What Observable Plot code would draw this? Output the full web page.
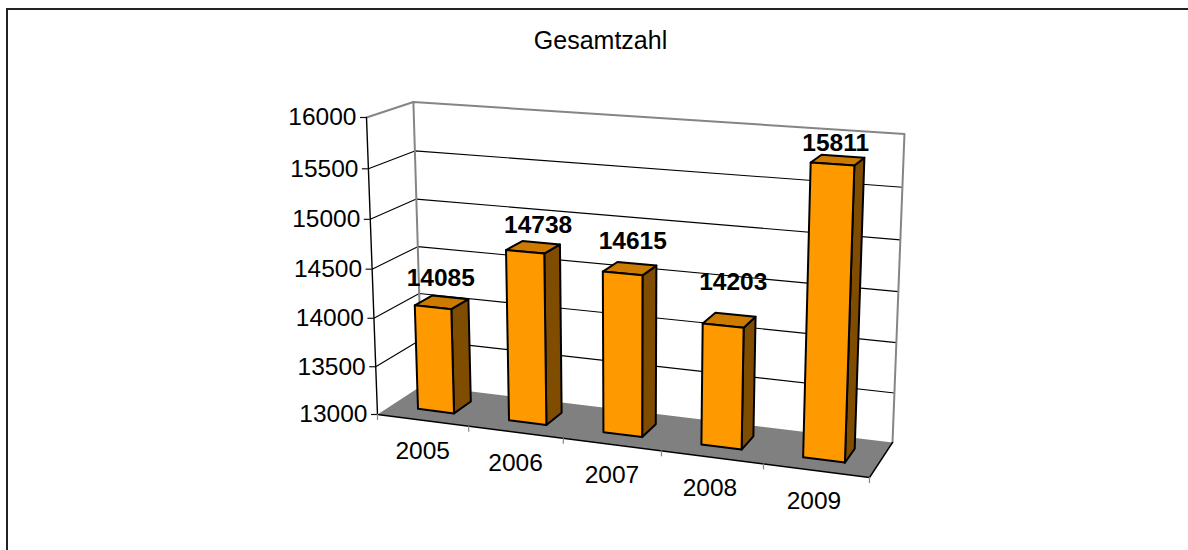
<!DOCTYPE html>
<html>
<head>
<meta charset="utf-8">
<script src="https://cdn.jsdelivr.net/npm/d3@7"></script>
<script src="https://cdn.jsdelivr.net/npm/@observablehq/plot@0.6"></script>
<style>
  html, body { margin: 0; padding: 0; background: #fff; overflow: hidden; }
  #wrap { position: relative; width: 1188px; height: 550px; }
  #frame { position: absolute; left: 6px; top: 8px; right: 0; bottom: -4px; border-left: 2px solid #222; border-top: 2px solid #222; }
  svg { display: block; }
</style>
</head>
<body>
<div id="wrap"><div id="frame"></div></div>
<script>
// ---- chart values ----
const chartTitle = "Gesamtzahl";
const years = ["2005", "2006", "2007", "2008", "2009"];
const totals = [14085, 14738, 14615, 14203, 15811];
const axisTicks = [13000, 13500, 14000, 14500, 15000, 15500, 16000];
const labelShiftX = [-1, 5, 3, 4, -2];
const labelShiftY = [-24, -22, -27, -38, -17];
const yearShiftX = [0, 0, 0, -2, -2];

const vMin = 13000, vMax = 16000;

// ---- perspective camera of the 3D box, expressed as pixel corners of its floor ----
const A = [377, 414], B = [869, 477], C = [892, 442], D = [421.5, 385], Atop = [366, 117];
const det = (p, q) => p[0] * q[1] - p[1] * q[0];
const dx1 = [B[0] - C[0], B[1] - C[1]], dx2 = [D[0] - C[0], D[1] - C[1]];
const sum = [A[0] - B[0] + C[0] - D[0], A[1] - B[1] + C[1] - D[1]];
const g = det(sum, dx2) / det(dx1, dx2), h = det(dx1, sum) / det(dx1, dx2), k = -0.0418;
const project = (u, val, w) => {
  const v = (val - vMin) / (vMax - vMin);
  const den = 1 + g * u + h * w + k * v;
  const ax = i => A[i] + (B[i] * (1 + g) - A[i]) * u + (D[i] * (1 + h) - A[i]) * w + (Atop[i] * (1 + k) - A[i]) * v;
  return { x: ax(0) / den, y: ax(1) / den };
};

// ---- build polygons from the values ----
const n = years.length;
const poly = (id, pts) => [...pts, pts[0]].map(p => ({ id, ...project(...p) }));

const floorFace = poly("floor", [[0, vMin, 0], [1, vMin, 0], [1, vMin, 1], [0, vMin, 1]]);
const gridLines = axisTicks.filter(t => t > vMin && t < vMax).flatMap(t =>
  [[0, t, 0], [0, t, 1], [1, t, 1]].map(p => ({ id: t, ...project(...p) })));
const wallEdge = [
  [[0, vMax, 0], [0, vMax, 1], [1, vMax, 1], [1, vMin, 1]],
  [[0, vMin, 1], [0, vMax, 1]]
].flatMap((line, i) => line.map(p => ({ id: i, ...project(...p) })));
const axisEdge = [[0, vMax, 0], [0, vMin, 0], [1, vMin, 0], [1, vMin, 1]].map(p => ({ ...project(...p) }));

const u0 = i => (i + 0.3) / n, u1 = i => (i + 0.7) / n;
const w0 = 0.3, w1 = 0.7;
const face = (name, build) => totals.flatMap((val, i) => poly(name + i, build(i, val)));
const frontFaces = face("front", (i, val) => [[u0(i), vMin, w0], [u1(i), vMin, w0], [u1(i), val, w0], [u0(i), val, w0]]);
const sideFaces = face("side", (i, val) => [[u1(i), vMin, w0], [u1(i), vMin, w1], [u1(i), val, w1], [u1(i), val, w0]]);
const topFaces = face("top", (i, val) => [[u0(i), val, w0], [u1(i), val, w0], [u1(i), val, w1], [u0(i), val, w1]]);

const yTickData = axisTicks.map(t => ({ t, ...project(0, t, 0) }));
const xTickData = d3.range(n + 1).map(i => ({ ...project(i / n, vMin, 0) }));
const yearData = years.map((yr, i) => {
  const p = project((i + 0.5) / n, vMin, 0);
  return { yr, x: p.x + yearShiftX[i], y: p.y };
});
const barLabels = totals.map((val, i) => {
  const p = project((i + 0.5) / n, val, 0.5);
  return { val, x: p.x + labelShiftX[i], y: p.y + labelShiftY[i] };
});

const font = "'Liberation Sans', Arial, sans-serif";
const chart = Plot.plot({
  width: 1188, height: 550,
  marginTop: 0, marginRight: 0, marginBottom: 0, marginLeft: 0,
  style: { fontFamily: font, background: "transparent" },
  x: { domain: [0, 1188], range: [0, 1188], axis: null },
  y: { domain: [0, 550], range: [0, 550], axis: null },
  marks: [
    Plot.line(floorFace, { x: "x", y: "y", z: "id", fill: "#808080", stroke: "none" }),
    Plot.line(gridLines, { x: "x", y: "y", z: "id", stroke: "#000", strokeWidth: 1.1 }),
    Plot.line(wallEdge, { x: "x", y: "y", z: "id", stroke: "#858585", strokeWidth: 2 }),
    Plot.line(axisEdge, { x: "x", y: "y", stroke: "#000", strokeWidth: 1.4 }),
    Plot.ruleY(yTickData, { y: "y", x1: d => d.x - 6, x2: "x", stroke: "#111", strokeWidth: 1.2 }),
    Plot.ruleX(xTickData, { x: "x", y1: "y", y2: d => d.y + 6, stroke: "#858585", strokeWidth: 1.2 }),
    Plot.line(sideFaces, { x: "x", y: "y", z: "id", fill: "#7f4c00", stroke: "#000", strokeWidth: 2, strokeLinejoin: "round" }),
    Plot.line(topFaces, { x: "x", y: "y", z: "id", fill: "#cc7a00", stroke: "#000", strokeWidth: 2, strokeLinejoin: "round" }),
    Plot.line(frontFaces, { x: "x", y: "y", z: "id", fill: "#ff9900", stroke: "#000", strokeWidth: 2, strokeLinejoin: "round" }),
    Plot.text(yTickData, { x: "x", y: "y", text: d => String(d.t), dx: -10, textAnchor: "end", lineAnchor: "middle", fontSize: 24.5, fill: "#000" }),
    Plot.text(yearData, { x: "x", y: "y", text: "yr", dy: 31, textAnchor: "middle", lineAnchor: "middle", fontSize: 24.5, fill: "#000" }),
    Plot.text(barLabels, { x: "x", y: "y", text: d => String(d.val), textAnchor: "middle", lineAnchor: "middle", fontSize: 24.5, fontWeight: "bold", fill: "#000" }),
    Plot.text([chartTitle], { frameAnchor: "top", dx: 6, dy: 40, lineAnchor: "middle", fontSize: 25, fill: "#000" })
  ]
});
document.getElementById("wrap").appendChild(chart);
</script>
</body>
</html>
